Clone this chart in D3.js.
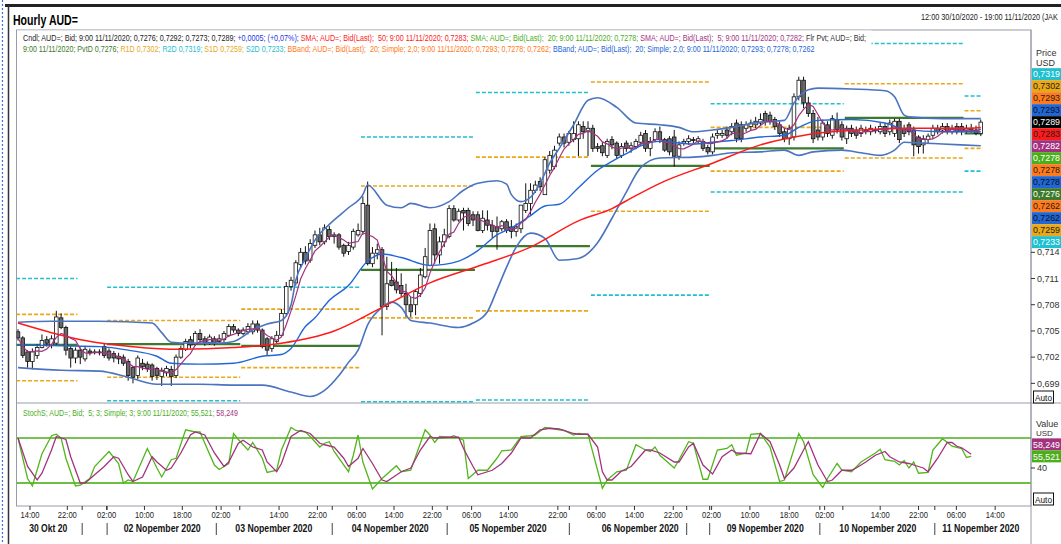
<!DOCTYPE html>
<html><head><meta charset="utf-8">
<script src="https://cdn.jsdelivr.net/npm/d3@7"></script>
<style>body{margin:0;background:#fff;overflow:hidden}svg{display:block}</style>
</head><body><svg id="c" width="1061" height="544"></svg>
<script>
// ---------------- DATA (prices in pips = price x 10000) ----------------
const opens = [7049,7042,7026,7015,7022,7031,7040,7034,7036,7065,7054,7030,7019,7028,7018,7027,7025,7026,7032,7027,7024,7021,7020,7015,7008,6999,7013,7012,7011,7007,6998,7002,7006,6999,7020,7029,7040,7035,7047,7041,7037,7041,7038,7040,7045,7055,7051,7047,7049,7049,7058,7051,7041,7030,7038,7045,7070,7101,7105,7126,7140,7131,7148,7160,7152,7166,
 7158,7160,7148,7141,7146,7160,7164,7194,7127,7139,7143,7078,7108,7106,7102,7093,7080,7080,7093,7112,7125,7167,7137,7152,7158,7190,7177,7188,7188,7183,7183,7165,7177,7171,7169,7167,7175,7169,7164,7167,7188,7196,7211,7221,7206,7234,7238,
 7265,7272,7266,7269,7270,7284,7278,7282,7261,7262,7251,7269,7265,7251,7265,7259,7261,7266,7276,7259,7269,7278,7269,7270,7272,7250,7265,7267,7269,7267,7267,7260,7255,7274,7274,7280,7278,7288,7286,7282,7284,7286,7288,7299,7297,7292,7286,7278,7270,7272,7318,7337,7311,7299,7280,7272,7286,7274,7292,7286,7270,7282,7280,7276,7280,7278,7280,7278,7284,7278,7276,7290,7282,7286,7280,7272,7263,7269,7274,7282,7280,7284,7278,7284,7284,7280,7282,7280,7276];
const highs = [7052,7044,7028,7030,7035,7046,7044,7045,7073,7070,7056,7033,7031,7031,7033,7030,7029,7029,7035,7030,7027,7025,7023,7018,7010,7022,7018,7015,7013,7009,7008,7010,7010,7023,7033,7041,7044,7050,7052,7044,7046,7044,7046,7050,7058,7058,7053,7054,7059,7062,7062,7053,7043,7044,7050,7075,7106,7112,7131,7145,7147,7155,7165,7168,7172,7170,
 7163,7162,7150,7152,7167,7173,7204,7221,7146,7150,7146,7135,7129,7122,7116,7104,7089,7097,7122,7145,7173,7173,7158,7167,7194,7194,7190,7191,7191,7187,7187,7188,7188,7177,7181,7177,7178,7177,7173,7194,7219,7219,7222,7226,7249,7256,7262,
 7276,7276,7279,7290,7290,7290,7290,7286,7265,7266,7270,7273,7267,7265,7268,7266,7270,7278,7280,7272,7282,7284,7271,7273,7280,7267,7270,7274,7272,7273,7270,7263,7276,7280,7280,7284,7288,7292,7290,7290,7292,7295,7299,7302,7301,7295,7290,7282,7286,7322,7341,7341,7318,7303,7295,7292,7290,7297,7300,7290,7285,7286,7284,7286,7284,7286,7284,7288,7288,7292,7293,7293,7286,7289,7284,7274,7274,7276,7286,7286,7288,7288,7286,7288,7288,7286,7287,7285,7292];
const lows = [7039,7019,7008,7006,7018,7030,7032,7030,7034,7052,7022,7008,7013,7012,7015,7022,7023,7022,7019,7016,7014,7012,7010,6993,6990,6995,7005,7003,6993,6994,6987,6998,6987,6996,7018,7027,7030,7033,7036,7033,7034,7033,7035,7037,7043,7048,7044,7045,7046,7046,7048,7030,7022,7026,7036,7043,7068,7096,7102,7122,7126,7128,7145,7148,7149,7154,
 7150,7143,7135,7137,7143,7158,7160,7125,7123,7132,7045,7074,7101,7093,7089,7066,7066,7068,7089,7110,7124,7127,7127,7146,7156,7175,7175,7165,7170,7170,7164,7162,7165,7156,7143,7164,7162,7156,7158,7162,7185,7183,7208,7210,7206,7230,7235,
 7262,7260,7262,7266,7250,7270,7250,7255,7255,7250,7248,7258,7247,7248,7255,7254,7258,7263,7255,7250,7266,7265,7255,7251,7238,7246,7262,7263,7265,7264,7256,7252,7252,7270,7271,7270,7274,7266,7266,7278,7280,7282,7285,7285,7286,7280,7272,7266,7263,7268,7314,7305,7295,7265,7268,7268,7272,7270,7276,7268,7264,7272,7270,7272,7275,7274,7276,7275,7272,7274,7272,7265,7272,7274,7250,7253,7253,7265,7270,7275,7276,7275,7275,7275,7274,7276,7277,7274,7273];
const closes = [7042,7022,7015,7026,7031,7039,7036,7041,7066,7054,7028,7019,7028,7020,7029,7025,7026,7025,7022,7019,7019,7018,7013,6999,6997,7019,7009,7007,6998,6999,7005,7007,6998,7020,7030,7038,7034,7047,7040,7036,7043,7036,7041,7047,7055,7051,7047,7051,7055,7058,7051,7032,7028,7041,7045,7070,7101,7108,7128,7140,7130,7150,7160,7152,7168,7158,
 7160,7146,7139,7148,7164,7165,7196,7127,7139,7143,7078,7104,7102,7097,7093,7080,7072,7095,7114,7135,7165,7137,7152,7160,7190,7177,7187,7185,7173,7177,7165,7179,7171,7164,7164,7175,7165,7164,7169,7194,7196,7211,7217,7215,7246,7251,7257,
 7272,7265,7276,7276,7286,7278,7282,7259,7259,7254,7267,7263,7251,7261,7259,7262,7267,7274,7259,7267,7278,7269,7257,7255,7250,7263,7267,7270,7268,7270,7259,7255,7272,7276,7276,7274,7284,7270,7270,7286,7288,7290,7292,7290,7290,7284,7276,7270,7282,7318,7337,7311,7299,7270,7272,7288,7276,7293,7280,7272,7282,7276,7274,7282,7278,7282,7280,7284,7276,7288,7290,7269,7276,7278,7263,7261,7270,7273,7282,7278,7284,7278,7282,7278,7278,7282,7280,7276,7289];

// SMA 50 (red): [slot, pips]
const sma50 = [[0,7059],[7,7048],[14,7039],[24,7032],[34,7029],[45,7031],[55,7036],[66,7050],[76,7077],[86,7105],[96,7124],[107,7146],[117,7176],[124,7190],[128,7202],[134,7219],[145,7242],[155,7263],[162,7272],[165,7275],[176,7280],[186,7282],[197,7282],[201,7283]];
// Bollinger bands (20; 2,0): [slot, pips]
const bbUpper = [[0,7060],[7,7061],[17,7061],[28,7059],[30,7048],[32,7037],[36,7036],[42,7036],[45,7038],[49,7051],[52,7058],[55,7062],[57,7080],[58,7108],[60,7133],[62,7154],[65,7172],[69,7191],[72,7206],[73,7217],[77,7194],[80,7191],[82,7196],[86,7191],[90,7198],[93,7211],[96,7219],[100,7222],[102,7218],[103,7206],[105,7198],[107,7203],[109,7219],[111,7242],[113,7259],[116,7286],[119,7314],[121,7317],[125,7306],[129,7288],[134,7286],[138,7283],[141,7278],[145,7280],[149,7283],[155,7289],[160,7291],[162,7311],[165,7326],[167,7328],[174,7327],[181,7325],[183,7318],[185,7297],[186,7295],[193,7293],[201,7293]];
const bbMiddle = [[0,7034],[9,7033],[17,7032],[23,7028],[29,7021],[32,7013],[38,7012],[45,7013],[51,7021],[55,7023],[57,7030],[60,7055],[62,7065],[65,7085],[69,7102],[73,7130],[76,7138],[80,7134],[86,7125],[92,7130],[96,7142],[100,7160],[103,7168],[107,7182],[110,7193],[113,7195],[117,7214],[121,7234],[124,7244],[127,7253],[130,7262],[134,7267],[141,7264],[145,7266],[149,7268],[155,7272],[160,7274],[163,7283],[167,7291],[174,7292],[181,7288],[185,7281],[193,7278],[201,7278]];
const bbLower = [[0,7008],[9,7005],[17,7004],[23,6997],[29,6989],[38,6989],[45,6988],[51,6988],[57,6980],[61,6975],[64,6982],[67,6999],[69,7014],[71,7028],[73,7057],[76,7077],[78,7083],[80,7077],[82,7062],[86,7059],[92,7054],[95,7059],[98,7072],[100,7097],[102,7123],[104,7146],[107,7162],[110,7156],[113,7131],[117,7133],[121,7151],[124,7179],[127,7209],[130,7237],[134,7248],[141,7249],[145,7251],[149,7254],[155,7255],[160,7257],[163,7251],[166,7255],[172,7257],[176,7254],[180,7251],[183,7257],[185,7266],[189,7265],[193,7264],[201,7262]];
// Daily floor pivots: first/last slot and levels
const pivotStart = [0,19,47,72,96,120,145,173,198];
const pivotEnd   = [12,46,71,95,119,144,172,197,201];
const pivotP  = [7034,7035,7033,7120,7147,7239,7259,7294,7276];
const pivotR1 = [7069,7062,7075,7216,7249,7335,7283,7333,7302];
const pivotS1 = [6993,6997,7008,7065,7073,7187,7233,7248,7259];
const pivotR2 = [7110,7100,7100,7272,7323,7387,7310,7379,7319];
const pivotS2 = [6958,6970,6966,6969,6971,7091,7209,7209,7233];
// Stochastic (%K green, %D purple): [slot, value]
const stochK = [[0,80],[2,26],[3,16],[5,59],[7,83],[8,85],[9,80],[10,53],[12,16],[13,17],[15,26],[16,42],[19,62],[21,46],[22,20],[23,24],[24,22],[27,66],[29,40],[30,28],[32,51],[33,53],[35,91],[37,88],[38,88],[39,73],[41,44],[42,38],[44,46],[45,86],[46,78],[48,64],[49,74],[51,53],[52,34],[54,37],[55,64],[57,94],[58,90],[60,88],[61,82],[63,68],[64,73],[65,75],[66,62],[69,35],[70,57],[71,84],[72,48],[74,12],[76,26],[79,43],[80,35],[82,37],[84,73],[85,91],[86,84],[87,74],[88,82],[90,81],[91,83],[92,80],[93,77],[94,26],[96,37],[98,37],[100,53],[101,63],[103,64],[105,82],[107,83],[108,84],[110,94],[112,92],[114,90],[116,84],[117,86],[119,85],[122,13],[123,24],[125,35],[127,37],[129,71],[131,64],[132,62],[133,68],[134,57],[137,40],[138,51],[140,75],[141,73],[143,25],[144,25],[146,64],[148,66],[149,71],[150,57],[152,60],[153,85],[155,86],[157,68],[159,22],[160,24],[163,86],[164,75],[166,31],[168,14],[169,26],[171,46],[172,37],[174,35],[176,48],[179,60],[180,65],[181,51],[183,49],[184,44],[185,50],[186,40],[187,48],[188,33],[190,34],[191,64],[193,79],[195,69],[197,66],[198,54],[199,55.521]];
const stochD = [[0,80],[2,42],[4,24],[5,33],[7,64],[8,82],[10,78],[11,55],[13,20],[14,20],[16,31],[18,42],[20,55],[21,53],[23,31],[24,22],[26,28],[28,55],[29,48],[31,37],[32,40],[34,60],[36,84],[37,88],[39,84],[41,60],[43,42],[44,48],[46,73],[47,77],[49,68],[51,64],[52,48],[54,35],[55,46],[57,82],[59,90],[61,86],[63,73],[64,71],[66,68],[68,53],[69,42],[71,53],[72,66],[74,46],[76,24],[77,22],[80,35],[82,40],[84,64],[86,82],[87,80],[90,81],[92,81],[93,66],[95,42],[96,31],[99,37],[101,46],[103,60],[105,80],[107,80],[109,91],[111,93],[113,92],[116,86],[117,85],[119,85],[121,68],[122,35],[123,24],[124,24],[126,36],[128,42],[131,64],[132,64],[134,60],[137,48],[138,48],[140,68],[141,73],[143,44],[145,32],[147,55],[149,64],[150,60],[153,59],[155,86],[157,75],[159,44],[160,26],[162,40],[164,64],[165,75],[167,44],[169,22],[170,24],[172,37],[174,37],[175,40],[177,48],[179,57],[181,62],[182,55],[184,48],[186,46],[187,44],[189,40],[190,35],[192,53],[194,74],[195,74],[196,69],[197,67],[199,58.249]];
// Time axis: hour ticks [slot,label], day separators, date labels
const hourTicks = [[2.5,"14:00"],[10.3,"22:00"],[18.5,"02:00"],[26.4,"10:00"],[34.3,"18:00"],[42.4,"02:00"],[46.3,""],[54.5,"14:00"],[62.5,"22:00"],[70.7,"06:00"],[78.5,"14:00"],[86.5,"22:00"],[94.7,"06:00"],[102.4,"14:00"],[112.7,"22:00"],[120.7,"06:00"],[128.7,"14:00"],[136.8,"22:00"],[144.8,"02:00"],[152.8,"10:00"],[161,"18:00"],[168.4,"02:00"],[172.2,""],[180,"14:00"],[188,"22:00"],[195.9,"06:00"],[204,"14:00"]];
const daySeps = [13.4,18.6,41.4,65.6,89.6,115.1,139.6,144.4,167.4,191.4];
const dateLabels = [[6.3,"30 Okt 20"],[30.1,"02 Nopember 2020"],[53.4,"03 Nopember 2020"],[77.7,"04 Nopember 2020"],[102.3,"05 Nopember 2020"],[129.9,"06 Nopember 2020"],[156,"09 Nopember 2020"],[179.5,"10 Nopember 2020"],[201,"11 Nopember 2020"]];
const priceTicks = [7140,7110,7080,7050,7020,6990];
const stochTicks = [40];
const lastK = 55.521, lastD = 58.249;

// ---------------- LAYOUT ----------------
const FONT = '"Liberation Sans", Arial, sans-serif';
const PL = 16.5, PR = 1031, MT = 30, MB = 403, SB = 506;
const C = {pivot:"#3d7a2b", r1:"#e9a817", r2:"#1fc0cf", bbU:"#4a74c0", bbM:"#2166d6", sma50:"#ff1a1a", sma5:"#a3327e", up:"#ffffff", dn:"#6a6a6a", k:"#52b51c", d:"#a3327e"};
const svg = d3.select("#c").style("font-family", FONT);
const x = d3.scaleLinear().domain([0, 211]).range([18, 18 + 211 * 4.79]);
const y = d3.scaleLinear().domain([6967.5, 7394.5]).range([MB, MT]);
const ys = d3.scaleLinear().domain([0, 100]).range([498, 423]);
// fit a text element horizontally into [x0, x0+w] with a scale transform
const fit = (t, x0, y0, w) => { const n = t.node().getComputedTextLength(); t.attr("x",0).attr("y",0).attr("transform",`translate(${x0},${y0}) scale(${w/n},1)`); return t; };

// frame
svg.append("line").attr("x1",2.5).attr("x2",2.5).attr("y1",0).attr("y2",544).attr("stroke","#3d6fd0").attr("stroke-dasharray","2,2").attr("stroke-width",1.2);
svg.append("line").attr("x1",5).attr("x2",1061).attr("y1",5.5).attr("y2",5.5).attr("stroke","#222").attr("stroke-width",3);
svg.append("line").attr("x1",8.5).attr("x2",8.5).attr("y1",5).attr("y2",544).attr("stroke","#333").attr("stroke-width",1.5);

fit(svg.append("text").attr("font-size",14).attr("font-weight","bold").text("Hourly AUD="), 13, 25, 65);
fit(svg.append("text").attr("font-size",9).attr("fill","#222").text("12:00 30/10/2020 - 19:00 11/11/2020 (JAK"), 921, 20, 137);

const defs = svg.append("defs");
defs.append("clipPath").attr("id","cm").append("rect").attr("x",PL).attr("y",MT).attr("width",PR-PL).attr("height",MB-MT);
defs.append("clipPath").attr("id","cs").append("rect").attr("x",PL).attr("y",MB).attr("width",PR-PL).attr("height",SB-MB);

// panel borders
svg.append("rect").attr("x",PL).attr("y",MT).attr("width",PR-PL).attr("height",SB-MT).attr("fill","none").attr("stroke","#9a9aa8");
svg.append("line").attr("x1",PL).attr("x2",1061).attr("y1",MB).attr("y2",MB).attr("stroke","#9a9aa8");
svg.append("line").attr("x1",PR).attr("x2",PR).attr("y1",MT).attr("y2",544).attr("stroke","#9a9aa8");

const gm = svg.append("g").attr("clip-path","url(#cm)");
// pivots
const lvl = (arr, color, w, dash) => {
  gm.append("g").selectAll("line").data(arr.map((v,i)=>[i,v])).join("line")
    .attr("x1",d=>x(pivotStart[d[0]]-0.4)).attr("x2",d=>x(pivotEnd[d[0]]+0.4))
    .attr("y1",d=>y(d[1])).attr("y2",d=>y(d[1]))
    .attr("stroke",color).attr("stroke-width",w).attr("stroke-dasharray",dash);
};
lvl(pivotR2, C.r2, 1.6, "4,2"); lvl(pivotS2, C.r2, 1.6, "4,2");
lvl(pivotR1, C.r1, 1.6, "4,2"); lvl(pivotS1, C.r1, 1.6, "4,2");
lvl(pivotP, C.pivot, 2.2, null);

// candles
const N = Math.min(opens.length, highs.length, lows.length, closes.length);
const idx = d3.range(N);
const cg = gm.append("g");
cg.selectAll("line").data(idx).join("line").attr("x1",i=>x(i)).attr("x2",i=>x(i)).attr("y1",i=>y(highs[i])).attr("y2",i=>y(lows[i])).attr("stroke","#111").attr("stroke-width",1);
cg.selectAll("rect").data(idx).join("rect").attr("x",i=>x(i)-1.8).attr("width",3.6)
  .attr("y",i=>y(Math.max(opens[i],closes[i]))).attr("height",i=>Math.max(0.8,Math.abs(y(opens[i])-y(closes[i]))))
  .attr("fill",i=>closes[i]>=opens[i]?C.up:C.dn).attr("stroke","#111").attr("stroke-width",0.8);

// lines
const ln = d3.line().x(d=>x(d[0])).y(d=>y(d[1])).curve(d3.curveMonotoneX);
const path = (data, color, w) => gm.append("path").datum(data).attr("d",ln).attr("fill","none").attr("stroke",color).attr("stroke-width",w);
path(bbUpper, C.bbU, 1.6);
path(bbLower, C.bbU, 1.6);
path(bbMiddle, C.bbM, 1.4);
path(sma50, C.sma50, 1.5);
const sma5 = idx.map(i => { const a = closes.slice(Math.max(0,i-4), i+1); return [i, d3.mean(a)]; });
gm.append("path").datum(sma5).attr("d", d3.line().x(d=>x(d[0])).y(d=>y(d[1]))).attr("fill","none").attr("stroke",C.sma5).attr("stroke-width",1.2);

// legend (white backgrounds behind text)
svg.append("rect").attr("x",PL+0.5).attr("y",MT+0.5).attr("width",871-PL).attr("height",14.5).attr("fill","#fff");
svg.append("rect").attr("x",PL+0.5).attr("y",MT+15).attr("width",816-PL).attr("height",10).attr("fill","#fff");
const legLine = (yy, x0, x1, segs) => {
  const t = svg.append("text").attr("font-size",9).attr("xml:space","preserve");
  segs.forEach(s => t.append("tspan").attr("fill",s[0]).text(s[1]));
  fit(t, x0, yy, x1-x0);
};
legLine(40.5, 23, 868, [["#222","Cndl; AUD=; Bid; 9:00 11/11/2020; 0,7276; 0,7292; 0,7273; 0,7289; "],["#1f35e0","+0,0005; (+0,07%); "],["#ff2020","SMA; AUD=; Bid(Last);  50; 9:00 11/11/2020; 0,7283; "],["#4cae1c","SMA; AUD=; Bid(Last);  20; 9:00 11/11/2020; 0,7278; "],["#a3327e","SMA; AUD=; Bid(Last);  5; 9:00 11/11/2020; 0,7282; "],["#333","Flr Pvt; AUD=; Bid;"]]);
legLine(52, 23, 815, [["#3d7a2b","9:00 11/11/2020; PvtD 0,7276; "],["#e9a817","R1D 0,7302; "],["#1fc0cf","R2D 0,7319; "],["#e9a817","S1D 0,7259; "],["#1fc0cf","S2D 0,7233; "],["#ff7a1a","BBand; AUD=; Bid(Last);  20; Simple; 2,0; 9:00 11/11/2020; 0,7293; 0,7278; 0,7262; "],["#2166d6","BBand; AUD=; Bid(Last);  20; Simple; 2,0; 9:00 11/11/2020; 0,7293; 0,7278; 0,7262"]]);

// right axis (price)
const fmtP = v => (v/10000).toFixed(3).replace(".",",");
const fmtL = v => (v/10000).toFixed(4).replace(".",",");
const pt = svg.append("g").selectAll("g").data(priceTicks).join("g").attr("transform",d=>`translate(${PR},${y(d)})`);
pt.append("line").attr("x1",0).attr("x2",4).attr("stroke","#333");
pt.append("text").attr("x",6).attr("dy","0.35em").attr("font-size",9).attr("fill","#333").text(fmtP);
svg.append("text").attr("x",1036).attr("y",56).attr("font-size",9).attr("fill","#333").text("Price");
svg.append("text").attr("x",1036).attr("y",66).attr("font-size",9).attr("fill","#333").text("USD");
// stacked value labels
const lastClose = closes[N-1];
const lab = [
  [pivotR2[8],"#1fc0cf","#fff"],[pivotR1[8],"#e9a817","#222"],[7293,"#ff7a1a","#222"],[7293,"#2166d6","#111"],
  [lastClose,"#000","#fff"],[7283,"#ff1a1a","#222"],[7282,"#a3327e","#fff"],[7278,"#4cae1c","#fff"],
  [7278,"#ff7a1a","#222"],[7278,"#2166d6","#111"],[pivotP[8],"#3d7a2b","#fff"],[7262,"#ff7a1a","#222"],
  [7262,"#2166d6","#111"],[pivotS1[8],"#e9a817","#222"],[pivotS2[8],"#1fc0cf","#fff"]];
const ci = 4, LH = 12;
const lg = svg.append("g").selectAll("g").data(lab).join("g").attr("transform",(d,i)=>`translate(${PR+1},${y(lastClose)-LH/2+(i-ci)*LH})`);
lg.append("rect").attr("width",30).attr("height",LH).attr("fill",d=>d[1]);
lg.append("text").attr("x",1).attr("y",9.2).attr("font-size",9.5).attr("textLength",27).attr("lengthAdjust","spacingAndGlyphs").attr("fill",d=>d[2]).text(d=>fmtL(d[0]));
// Auto boxes
[[391],[493]].forEach(([yy])=>{ svg.append("rect").attr("x",1033.5).attr("y",yy).attr("width",20).attr("height",12).attr("fill","#fff").attr("stroke","#111");
  svg.append("text").attr("x",1035).attr("y",yy+9.5).attr("font-size",8.5).attr("textLength",17).attr("lengthAdjust","spacingAndGlyphs").attr("fill","#111").text("Auto"); });

// ---------------- STOCHASTIC ----------------
const gs = svg.append("g").attr("clip-path","url(#cs)");
gs.append("line").attr("x1",PL).attr("x2",PR).attr("y1",ys(80)).attr("y2",ys(80)).attr("stroke","#4cae1c").attr("stroke-width",1.5);
gs.append("line").attr("x1",PL).attr("x2",PR).attr("y1",ys(20)).attr("y2",ys(20)).attr("stroke","#6cbf45").attr("stroke-width",2);
const sl = d3.line().x(d=>x(d[0])).y(d=>ys(d[1]));
gs.append("path").datum(stochK).attr("d",sl).attr("fill","none").attr("stroke",C.k).attr("stroke-width",1.3);
gs.append("path").datum(stochD).attr("d",sl).attr("fill","none").attr("stroke",C.d).attr("stroke-width",1.3);
const st = svg.append("text").attr("font-size",9).attr("xml:space","preserve");
st.append("tspan").attr("fill","#4cae1c").text("StochS; AUD=; Bid;  5; 3; Simple; 3; 9:00 11/11/2020; 55,521; ");
st.append("tspan").attr("fill","#a3327e").text("58,249");
fit(st, 23, 416, 215);
svg.append("text").attr("x",1036).attr("y",427).attr("font-size",9).attr("fill","#333").text("Value");
svg.append("text").attr("x",1036).attr("y",436).attr("font-size",8).attr("fill","#333").text("USD");
const sg = svg.append("g").selectAll("g").data(stochTicks).join("g").attr("transform",d=>`translate(${PR},${ys(d)})`);
sg.append("line").attr("x2",4).attr("stroke","#333");
sg.append("text").attr("x",6).attr("dy","0.35em").attr("font-size",9).attr("fill","#333").text(d=>d);
const slab = [[lastD,"#a3327e"],[lastK,"#4cae1c"]];
svg.append("g").selectAll("g").data(slab).join("g").attr("transform",(d,i)=>`translate(${PR+1},${ys(lastK)-6+(i-1)*12})`)
  .call(g=>{ g.append("rect").attr("width",30).attr("height",12).attr("fill",d=>d[1]);
    g.append("text").attr("x",1).attr("y",9.3).attr("font-size",9.5).attr("textLength",27).attr("lengthAdjust","spacingAndGlyphs").attr("fill","#fff").text(d=>d[0].toFixed(3).replace(".",",")); });

// ---------------- TIME AXIS ----------------
const ax = svg.append("g");
ax.selectAll("line.t").data(hourTicks).join("line").attr("class","t").attr("x1",d=>x(d[0])).attr("x2",d=>x(d[0])).attr("y1",SB).attr("y2",SB+4).attr("stroke","#333");
ax.selectAll("line.s").data(daySeps).join("line").attr("class","s").attr("x1",d=>x(d)).attr("x2",d=>x(d)).attr("y1",SB).attr("y2",SB+4).attr("stroke","#333");
ax.selectAll("text.h").data(hourTicks.filter(d=>d[1])).join("text").attr("class","h").attr("x",d=>x(d[0])).attr("y",518).attr("text-anchor","middle").attr("font-size",8.5).attr("fill","#222").attr("textLength",19).attr("lengthAdjust","spacingAndGlyphs").text(d=>d[1]);
ax.selectAll("line.b").data(daySeps).join("line").attr("class","b").attr("x1",d=>x(d)).attr("x2",d=>x(d)).attr("y1",523).attr("y2",535).attr("stroke","#444");
ax.selectAll("text.d").data(dateLabels).join("text").attr("class","d").attr("x",d=>x(d[0])).attr("y",532).attr("text-anchor","middle").attr("font-size",10).attr("font-weight","bold").attr("fill","#111")
  .attr("textLength",d=>d[1].length>10?77:38).attr("lengthAdjust","spacingAndGlyphs").text(d=>d[1]);
</script></body></html>
